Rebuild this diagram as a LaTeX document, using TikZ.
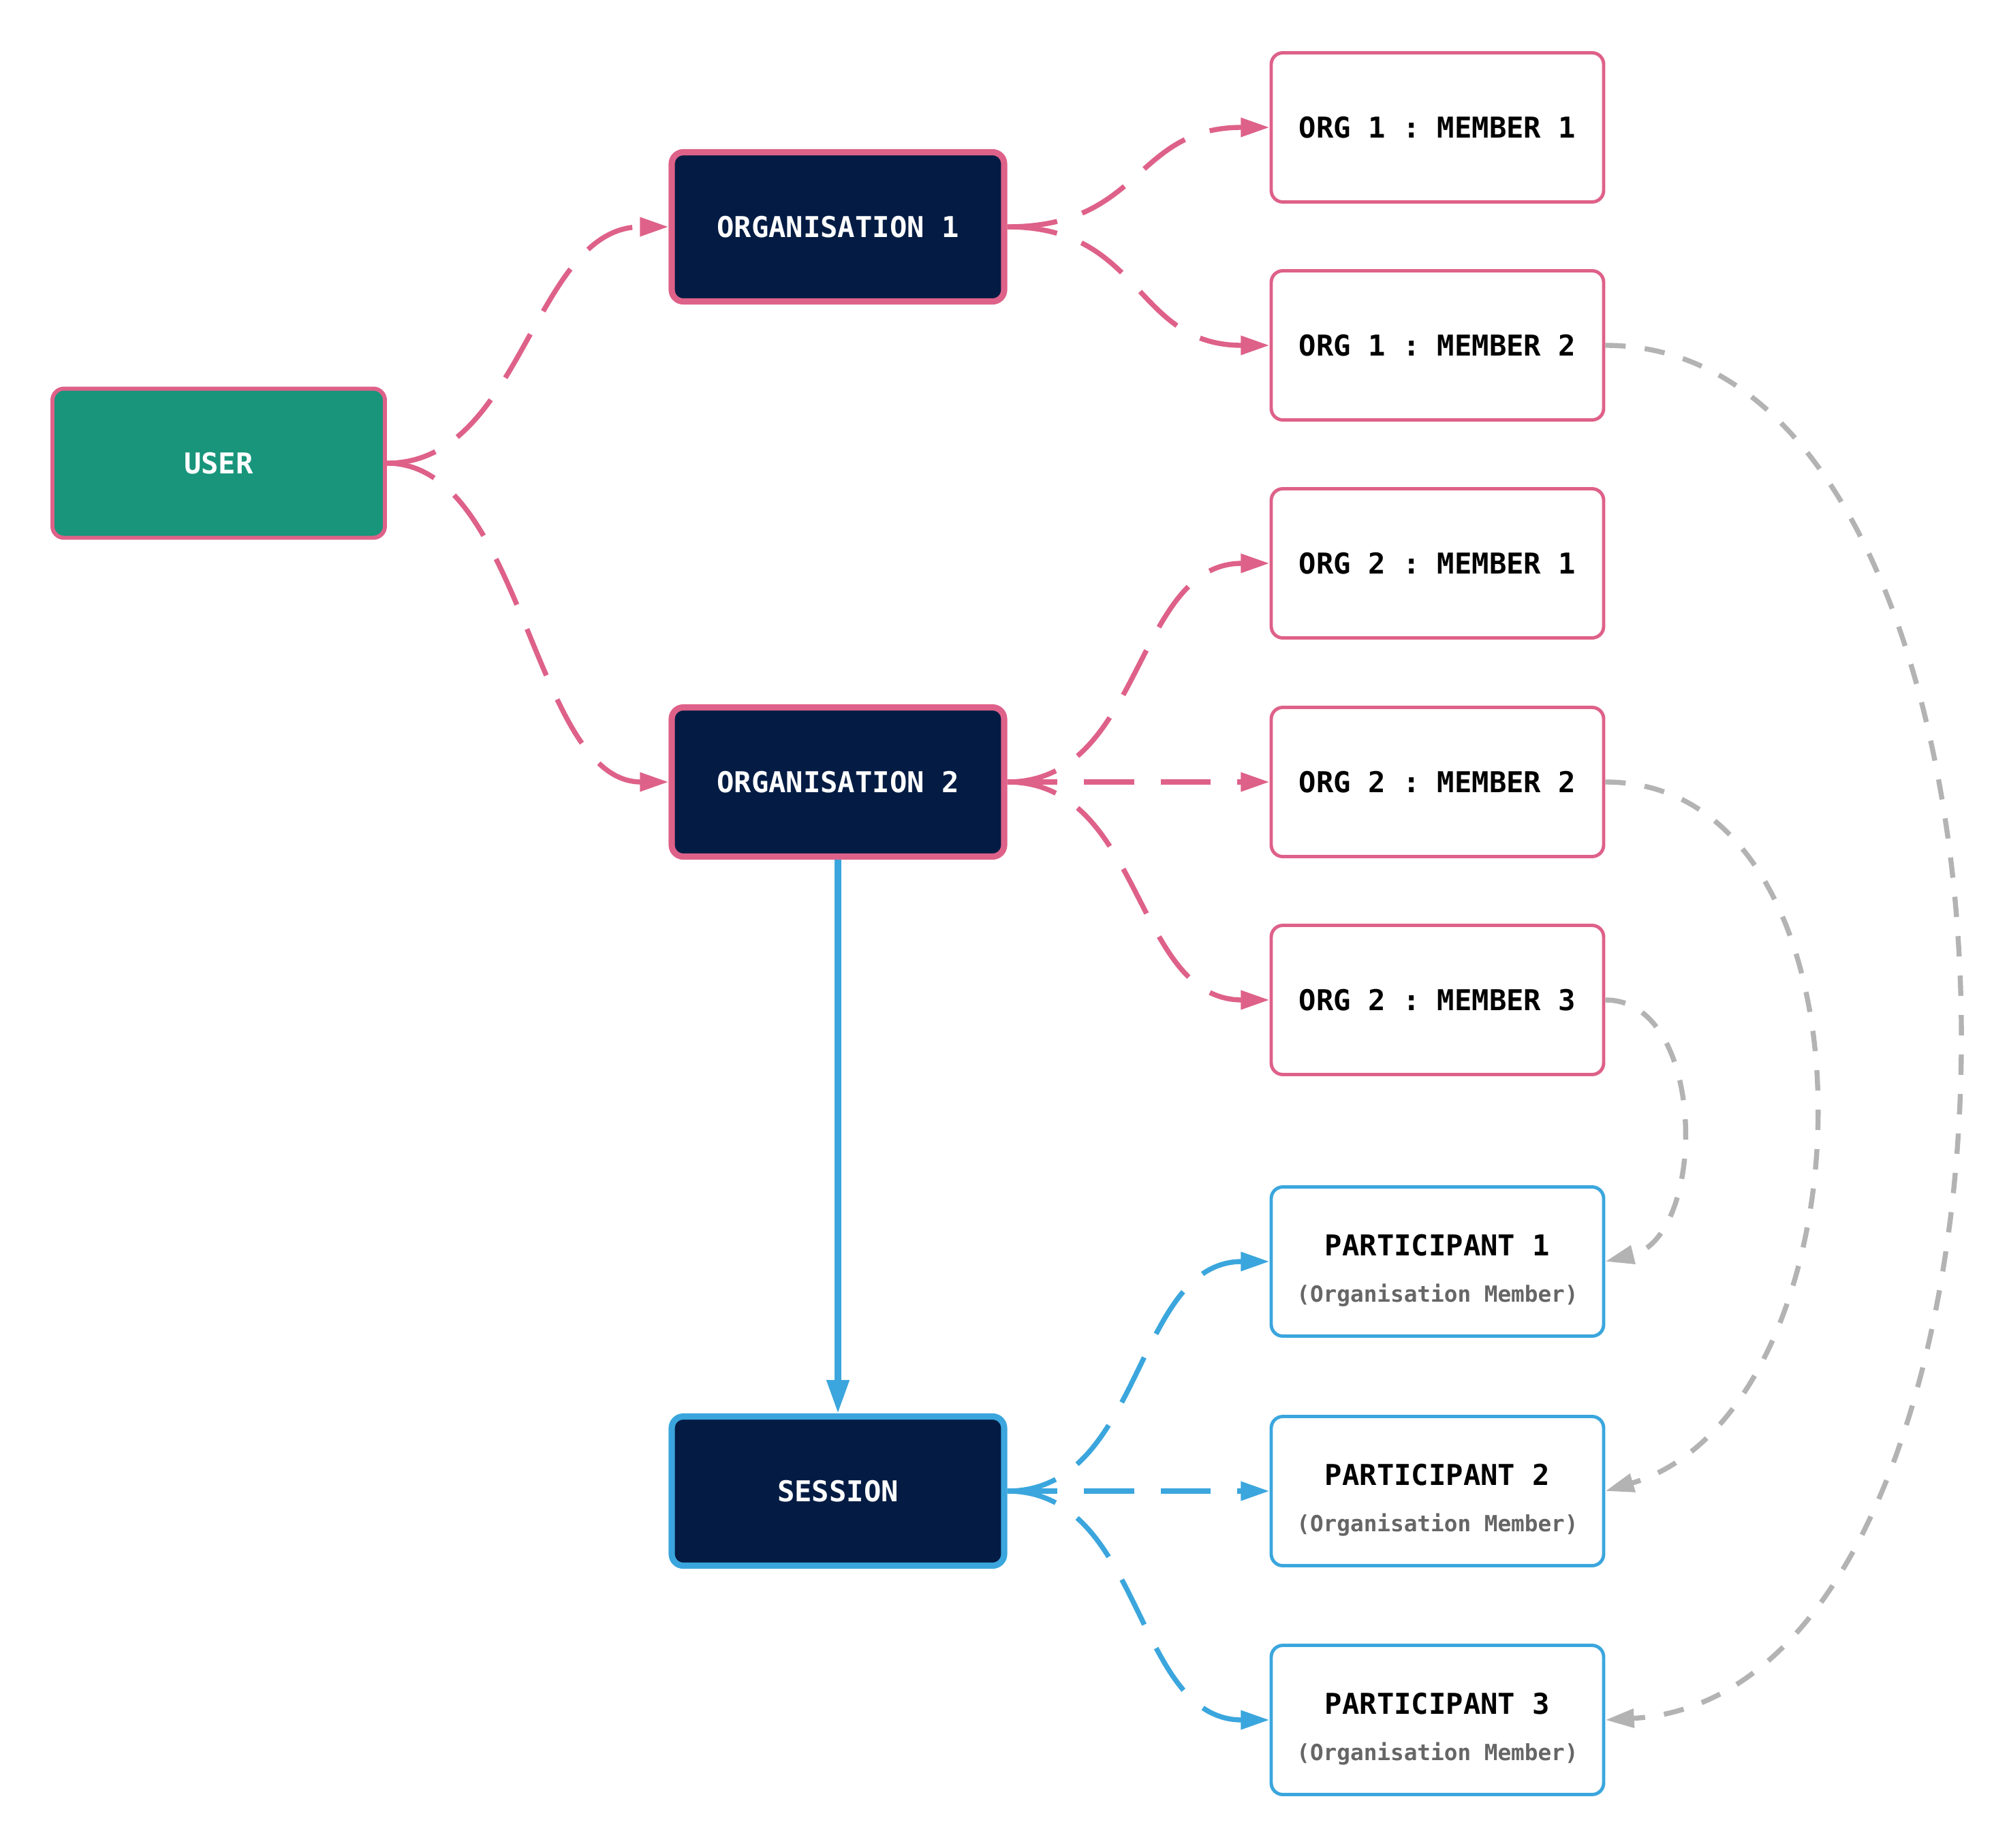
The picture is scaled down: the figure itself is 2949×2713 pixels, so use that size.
\documentclass[tikz,border=0pt]{standalone}
\usepackage{fontspec}
\setmonofont{DejaVu Sans Mono}
\usetikzlibrary{arrows.meta}
\definecolor{pinkedge}{HTML}{DE6189}
\definecolor{navyfill}{HTML}{041C44}
\definecolor{greenfill}{HTML}{18957B}
\definecolor{blueedge}{HTML}{3BA6DD}
\definecolor{greyline}{HTML}{B3B3B3}
\definecolor{greytext}{HTML}{666666}

\begin{document}
\begin{tikzpicture}[x=.1mm,y=-.1mm,
 every node/.style={font=\ttfamily\bfseries\fontsize{12}{14}\selectfont},
 card/.style={rounded corners=1.7mm,minimum width=48.8mm,minimum height=21.9mm,inner sep=0pt},
 userbox/.style={card,draw=pinkedge,fill=greenfill,line width=1.7pt,text=white},
 orgbox/.style={card,draw=pinkedge,fill=navyfill,line width=2.6pt,text=white},
 sessionbox/.style={card,draw=blueedge,fill=navyfill,line width=2.6pt,text=white},
 memberbox/.style={card,draw=pinkedge,fill=white,line width=1.4pt},
 partbox/.style={card,draw=blueedge,fill=white,line width=1.4pt},
 subtext/.style={font=\ttfamily\bfseries\fontsize{9.3}{11}\selectfont,text=greytext},
 link/.style={line width=2.1pt,dash pattern=on 21pt off 11pt,-{Triangle[length=12pt,width=7.6pt]}},
 ref/.style={line width=2.1pt,draw=greyline,dash pattern=on 8.5pt off 8pt,-{Triangle[length=12pt,width=7.6pt]}}]
\fill[white] (0,0) rectangle (2949,2713);
\useasboundingbox (0,0) rectangle (2949,2713);
% left column
\node[userbox] (user) at (321,680) {USER};
\node[orgbox] (org1) at (1230,333) {ORGANISATION 1};
\node[orgbox] (org2) at (1230,1148) {ORGANISATION 2};
\node[sessionbox] (session) at (1230,2189) {SESSION};
% right column
\foreach \name/\y/\txt in {m11/187/{ORG 1 : MEMBER 1},m12/507/{ORG 1 : MEMBER 2},
 m21/827/{ORG 2 : MEMBER 1},m22/1148/{ORG 2 : MEMBER 2},m23/1468/{ORG 2 : MEMBER 3}}
  {\node[memberbox] (\name) at (2110,\y) {\txt};}
\foreach \n/\y in {1/1852,2/2189,3/2525}
 {\node[partbox] (p\n) at (2110,\y) {};
  \node (p\n-t) at (2110,\y-24) {PARTICIPANT \n};
  \node[subtext] (p\n-s) at (2110,\y+50) {(Organisation Member)};}
% connectors
\foreach \a/\b in {user/org1,user/org2,org1/m11,org1/m12,org2/m21,org2/m23}
  {\draw[link,pinkedge] (\a.east) .. controls +(200,0) and +(-200,0) .. (\b.west);}
\draw[link,pinkedge] (org2.east) -- (m22.west);
\draw[blueedge,line width=2.6pt,-{Triangle[length=14pt,width=9pt]}] (org2.south) -- (session.north);
\foreach \b in {p1,p3}
  {\draw[link,blueedge] (session.east) .. controls +(200,0) and +(-200,0) .. (\b.west);}
\draw[link,blueedge] (session.east) -- (p2.west);
\draw[ref] (m23.east) .. controls +(150,0) and +(150,-37) .. (p1.east);
\draw[ref] (m22.east) .. controls +(420,0) and +(400,-120) .. (p2.east);
\draw[ref] (m12.east) .. controls +(690,0) and +(690,-40) .. (p3.east);
\end{tikzpicture}
\end{document}
